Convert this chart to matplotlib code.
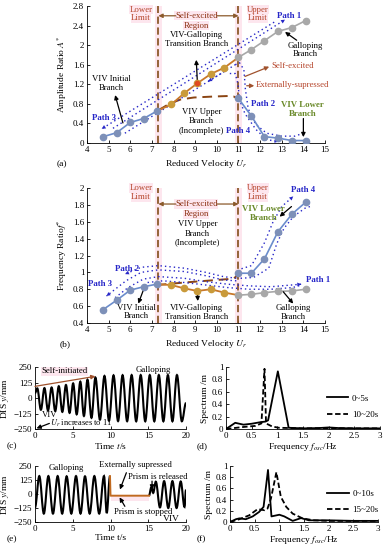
import matplotlib
matplotlib.use('Agg')
import matplotlib.pyplot as plt
from matplotlib.path import Path
from matplotlib.patches import PathPatch

plt.rcParams['font.family'] = ['Liberation Serif', 'DejaVu Serif']
plt.rcParams['mathtext.fontset'] = 'stix'
plt.rcParams['font.size'] = 6.3

# ---- panel (a)/(b) data: reduced velocity vs amplitude / frequency ratio
ur_viv = [4.75, 5.37, 6.0, 6.62, 7.22]
ur_trans = [7.9, 8.5, 9.1, 9.72, 10.35]
ur_high = [11.0, 11.6, 12.2, 12.82, 13.47, 14.1]

amp_viv = [0.13, 0.21, 0.42, 0.50, 0.65]
amp_trans = [0.79, 1.02, 1.22, 1.41, 1.54]
amp_gal = [1.75, 1.91, 2.09, 2.28, 2.36, 2.50]
amp_low = [0.91, 0.55, 0.13, 0.10, 0.05, 0.05]

frq_viv = [0.56, 0.67, 0.79, 0.83, 0.86]
frq_trans = [0.85, 0.81, 0.78, 0.80, 0.76]
frq_gal = [0.73, 0.74, 0.76, 0.775, 0.78, 0.80]
frq_low = [0.99, 0.99, 1.16, 1.48, 1.69, 1.83]

# VIV upper branch (incomplete) dashed lines
upper_a_x = [7.3, 7.8, 8.33, 8.94, 9.86, 10.5, 10.78, 11.0]
upper_a_y = [0.67, 0.80, 0.89, 0.93, 0.95, 0.96, 0.95, 0.90]
upper_b_x = [7.22, 8.5, 9.5, 10.5, 10.8, 11.0]
upper_b_y = [0.85, 0.88, 0.90, 0.92, 0.93, 0.98]

# ---- panel (c): extrema of displacement time history (t in s, y in mm)
t_c = [0.0, 0.3, 0.78, 1.25, 1.72, 2.2, 2.68, 3.15, 3.62, 4.1, 4.58, 5.05, 5.52,
       6.0, 6.48, 6.95, 7.48, 8.0, 8.6, 9.2, 9.8, 10.4, 11.0, 11.6, 12.2, 12.8,
       13.4, 14.0, 14.6, 15.2, 15.8, 16.4, 17.0, 17.6, 18.2, 18.8, 19.45, 20.0]
y_c = [40, 78, -95, 80, -100, 85, -105, 95, -112, 105, -120, 118, -132,
       132, -145, 148, -160, 165, -175, 178, -183, 183, -186, 184, -187, 185,
       -188, 185, -188, 185, -188, 185, -188, 185, -188, 185, -188, -40]

# ---- panel (e)
t_e = [0.0, 0.57, 1.17, 1.77, 2.38, 3.0, 3.6, 4.19, 4.81, 5.43, 6.03, 6.62,
       7.24, 7.86, 8.5, 9.14, 9.5, 9.93]
y_e = [-120, 160, -175, 160, -175, 160, -175, 158, -175, 160, -175, 158,
       -175, 160, -175, 160, -170, 160]
t_stop = [9.93, 10.0, 15.1]
y_stop = [160, -15, -15]
t_rel = [15.1, 15.4, 15.65, 16.0, 16.55, 17.1, 17.65, 18.2, 18.75, 19.3, 19.8, 20.0]
y_rel = [-15, 60, 10, 110, -120, 115, -125, 115, -125, 112, -115, 40]

# ---- panel (d)/(f): spectra
f_d1 = [0, 0.18, 0.34, 0.5, 0.67, 0.77, 0.82, 1.01, 1.22, 1.5, 1.8, 2.0, 2.2, 2.5, 3.0]
s_d1 = [0, 0.10, 0.07, 0.085, 0.11, 0.12, 0.14, 0.93, 0.02, 0.01, 0.015, 0.025, 0.015, 0.01, 0.01]
f_d2 = [0, 0.31, 0.57, 0.69, 0.75, 0.78, 0.9, 1.03, 1.5, 2.0, 2.5, 3.0]
s_d2 = [0, 0.03, 0.05, 0.09, 0.97, 0.09, 0.04, 0.02, 0.01, 0.015, 0.01, 0.01]
f_f1 = [0, 0.12, 0.19, 0.32, 0.46, 0.59, 0.68, 0.77, 0.84, 1.0, 1.1, 1.27, 1.44, 1.6, 2.0, 2.5, 3.0]
s_f1 = [0, 0.05, 0.065, 0.05, 0.10, 0.18, 0.27, 0.93, 0.10, 0.13, 0.10, 0.02, 0.07, 0.03, 0.03, 0.02, 0.02]
f_f2 = [0, 0.19, 0.39, 0.56, 0.7, 0.76, 0.83, 0.94, 1.03, 1.14, 1.27, 1.47, 1.7, 2.0, 2.5, 3.0]
s_f2 = [0, 0.05, 0.12, 0.23, 0.21, 0.24, 0.42, 0.89, 0.45, 0.27, 0.15, 0.065, 0.03, 0.02, 0.02, 0.02]

# colours
c_blue = '#7d90b8'
c_blue_ln = '#6a8ccc'
c_orange = '#c99a3a'
c_orange_ln = '#c8782a'
c_grey = '#a8a8a8'
c_brown = '#8b5a2b'
c_path = '#2626c8'
c_red = '#b5442a'
c_green = '#6a8a2a'
c_pink = '#fde6ee'


def wave(ax, ts, ys, color='black', lw=1.5):
    # smooth curve through extrema, horizontal tangent at each extremum
    verts = [(ts[0], ys[0])]
    codes = [Path.MOVETO]
    for i in range(1, len(ts)):
        dt = ts[i] - ts[i - 1]
        verts += [(ts[i - 1] + 0.36 * dt, ys[i - 1]), (ts[i] - 0.36 * dt, ys[i]), (ts[i], ys[i])]
        codes += [Path.CURVE4] * 3
    ax.add_patch(PathPatch(Path(verts, codes), facecolor='none', edgecolor=color, lw=lw))


def dotted(ax, xs, ys, arrow=False):
    ax.plot(xs, ys, ls=(0, (1, 2.2)), color=c_path, lw=1.0)
    if arrow:
        ax.annotate('', xy=(xs[-1], ys[-1]), xytext=(xs[-2], ys[-2]),
                    arrowprops=dict(arrowstyle='-|>', color=c_path, lw=0.01,
                                    mutation_scale=7, shrinkA=0, shrinkB=0))


def arrow(ax, xy, xytext, color='black'):
    ax.annotate('', xy=xy, xytext=xytext,
                arrowprops=dict(arrowstyle='-|>', color=color, lw=0.9,
                                mutation_scale=6, shrinkA=0, shrinkB=0),
                annotation_clip=False)


def branches(ax, y_viv, y_trans, y_gal, y_low):
    ax.plot(ur_viv, y_viv, color=c_blue_ln, lw=1.2, zorder=3)
    ax.plot([ur_viv[-1]] + ur_trans + [ur_high[0]], [y_viv[-1]] + y_trans + [y_gal[0]],
            color=c_orange_ln, lw=1.3, zorder=3)
    ax.plot(ur_high, y_gal, color=c_grey, lw=1.2, zorder=3)
    ax.plot(ur_high, y_low, color=c_blue_ln, lw=1.2, zorder=3)
    ax.plot(ur_viv, y_viv, 'o', color=c_blue, ms=4.5, zorder=4)
    ax.plot(ur_trans, y_trans, 'o', color=c_orange, ms=4.5, zorder=4)
    ax.plot(ur_high, y_gal, 'o', color=c_grey, ms=4.5, zorder=4)
    ax.plot(ur_high, y_low, 'o', color=c_blue, ms=4.5, zorder=4)


def limits(ax, y1, y2, y3, y4):
    # y1/y2: Lower|Upper / Limit lines, y3/y4: Self-excited / Region lines
    for x in [7.3, 11.0]:
        ax.axvspan(x - 0.15, x + 0.15, color=c_pink, zorder=0, lw=0)
        ax.axvline(x, color=c_brown, ls=(0, (4, 2)), lw=1.3, zorder=2)
    box = dict(fc=c_pink, ec='none', pad=0.4)
    for x, w in [(6.5, 'Lower'), (11.9, 'Upper')]:
        ax.text(x, y1, w, color=c_red, ha='center', va='center', bbox=box, clip_on=False)
        ax.text(x, y2, 'Limit', color=c_red, ha='center', va='center', bbox=box)
    ax.text(9.05, y3, 'Self-excited', color='#8b3010', ha='center', va='center', bbox=box)
    ax.text(9.05, y4, 'Region', color='#8b3010', ha='center', va='center', bbox=box)
    arrow(ax, (7.3, y3), (8.1, y3), color=c_brown)
    arrow(ax, (11.0, y3), (10.0, y3), color=c_brown)


def style(ax):
    for s in ['top', 'right']:
        ax.spines[s].set_visible(False)
    ax.tick_params(direction='in', length=2, width=0.6, labelsize=6.5, pad=2)
    for s in ['left', 'bottom']:
        ax.spines[s].set_linewidth(0.6)


fig = plt.figure(figsize=(3.86, 5.5), dpi=100)

# ---------------- (a)
ax = fig.add_axes([0.2254, 0.74, 0.6166, 0.2491])
style(ax)
limits(ax, 2.72, 2.55, 2.6, 2.4)
branches(ax, amp_viv, amp_trans, amp_gal, amp_low)
ax.plot(ur_trans[2], amp_trans[2], 'o', color='#e04a20', ms=3, zorder=5)
ax.plot(upper_a_x, upper_a_y, color='#8b4513', ls=(0, (5, 3)), lw=1.4, zorder=2)
dotted(ax, [12.65, 4.68], [2.47, 0.29], arrow=True)
dotted(ax, [5.2, 13.15], [0.30, 2.52], arrow=True)
dotted(ax, [5.75, 10.85], [0.2, 1.6])
dotted(ax, [10.2, 9.6], [1.42, 1.26], arrow=True)
dotted(ax, [10.85, 11.05, 11.25, 11.32, 11.45, 11.8, 12.3, 13.0, 13.6, 14.0],
       [1.60, 1.64, 1.50, 1.1, 0.7, 0.38, 0.2, 0.14, 0.14, 0.2])
dotted(ax, [10.6, 10.85, 10.98, 11.05, 11.3, 11.8, 12.3, 12.85],
       [1.42, 1.42, 1.2, 0.88, 0.6, 0.28, 0.07, 0.03], arrow=True)
ax.text(13.33, 2.6, 'Path 1', color=c_path, fontweight='bold', ha='center', va='center')
ax.text(12.15, 0.8, 'Path 2', color=c_path, fontweight='bold', ha='center', va='center')
ax.text(4.79, 0.52, 'Path 3', color=c_path, fontweight='bold', ha='center', va='center')
ax.text(11.0, 0.25, 'Path 4', color=c_path, fontweight='bold', ha='center', va='center')
ax.text(9.07, 2.11, 'VIV-Galloping\nTransition Branch', ha='center', va='center', linespacing=1.15)
arrow(ax, (9.05, 1.7), (9.1, 1.25))
ax.text(5.14, 1.22, 'VIV Initial\nBranch', ha='center', va='center', linespacing=1.15)
arrow(ax, (5.3, 0.98), (5.66, 0.41))
ax.text(14.07, 1.9, 'Galloping\nBranch', ha='center', va='center', linespacing=1.15)
arrow(ax, (13.15, 2.27), (13.69, 2.1))
ax.text(9.3, 0.44, 'VIV Upper\nBranch\n(Incomplete)', ha='center', va='center', linespacing=1.25)
ax.text(13.95, 0.69, 'VIV Lower\nBranch', color=c_green, fontweight='bold', ha='center',
        va='center', linespacing=1.15)
arrow(ax, (14.0, 0.12), (14.0, 0.5))
arrow(ax, (12.42, 1.56), (11.3, 1.36), color='#a0522d')
ax.text(12.5, 1.58, 'Self-excited', color=c_red, ha='left', va='center')
arrow(ax, (11.73, 1.17), (11.38, 1.17), color='#a0522d')
ax.text(11.81, 1.19, 'Externally-supressed', color=c_red, ha='left', va='center')
ax.set_xlim(4, 15)
ax.set_ylim(0, 2.8)
ax.set_xticks(range(4, 16))
ax.set_yticks([0, 0.4, 0.8, 1.2, 1.6, 2.0, 2.4, 2.8])
ax.set_yticklabels(['0', '0.4', '0.8', '1.2', '1.6', '2', '2.4', '2.8'])
ax.set_xlabel('Reduced Velocity $U_r$', fontsize=6.8, labelpad=3)
ax.set_ylabel('Amplitude Ratio $A^{*}$', fontsize=6.8, labelpad=3)

# ---------------- (b)
ax = fig.add_axes([0.2254, 0.4127, 0.6166, 0.2455])
style(ax)
limits(ax, 2.0, 1.89, 1.81, 1.69)
branches(ax, frq_viv, frq_trans, frq_gal, frq_low)
ax.plot(upper_b_x, upper_b_y, color='#8b4513', ls=(0, (5, 3)), lw=1.4, zorder=2)
dotted(ax, [10.9, 10.3, 9.5, 8.5, 7.3, 6.5, 5.76], [0.93, 0.95, 1.0, 1.05, 1.08, 1.06, 0.98], arrow=True)
dotted(ax, [10.9, 10.3, 9.5, 8.5, 7.3, 6.5, 5.8, 5.2, 4.9],
       [0.90, 0.91, 0.96, 1.01, 1.03, 1.0, 0.9, 0.78, 0.72], arrow=True)
dotted(ax, [5.3, 5.9, 6.6, 7.3, 8.5, 9.5, 10.5, 11.5, 12.5, 13.9],
       [0.70, 0.82, 0.92, 0.95, 0.93, 0.89, 0.86, 0.84, 0.83, 0.86], arrow=True)
dotted(ax, [6.8, 7.5, 8.5, 9.5, 10.5, 11.5, 12.5, 13.5, 13.9],
       [0.88, 0.9, 0.88, 0.85, 0.82, 0.8, 0.8, 0.82, 0.85])
dotted(ax, [10.9, 11.1, 11.6, 12.2, 12.6, 13.0, 13.53],
       [0.96, 1.04, 1.08, 1.35, 1.6, 1.78, 1.9], arrow=True)
dotted(ax, [11.1, 11.7, 12.4, 12.77, 13.1, 13.53, 14.07, 14.3],
       [0.93, 0.94, 1.05, 1.34, 1.52, 1.66, 1.76, 1.78])
ax.text(14.0, 1.98, 'Path 4', color=c_path, fontweight='bold', ha='center', va='center')
ax.text(14.7, 0.91, 'Path 1', color=c_path, fontweight='bold', ha='center', va='center')
ax.text(5.87, 1.04, 'Path 2', color=c_path, fontweight='bold', ha='center', va='center')
ax.text(4.6, 0.86, 'Path 3', color=c_path, fontweight='bold', ha='center', va='center')
ax.text(9.1, 1.46, 'VIV Upper\nBranch\n(Incomplete)', ha='center', va='center', linespacing=1.25)
ax.text(12.15, 1.7, 'VIV Lower\nBranch', color=c_green, fontweight='bold', ha='center',
        va='center', linespacing=1.15)
arrow(ax, (12.9, 1.66), (13.45, 1.78))
ax.text(6.27, 0.53, 'VIV Initial\nBranch', ha='center', va='center', linespacing=1.15)
arrow(ax, (6.37, 0.63), (6.62, 0.80))
ax.text(9.07, 0.52, 'VIV-Galloping\nTransition Branch', ha='center', va='center', linespacing=1.15)
arrow(ax, (9.12, 0.66), (9.1, 0.78))
ax.text(13.53, 0.52, 'Galloping\nBranch', ha='center', va='center', linespacing=1.15)
arrow(ax, (13.53, 0.63), (13.07, 0.77))
ax.set_xlim(4, 15)
ax.set_ylim(0.4, 2.0)
ax.set_xticks(range(4, 16))
ax.set_yticks([0.4, 0.6, 0.8, 1.0, 1.2, 1.4, 1.6, 1.8, 2.0])
ax.set_yticklabels(['0.4', '0.6', '0.8', '1', '1.2', '1.4', '1.6', '1.8', '2'])
ax.set_xlabel('Reduced Velocity $U_r$', fontsize=6.8, labelpad=3)
ax.set_ylabel('Frequency Ratio$f^{*}$', fontsize=6.8, labelpad=3)

# ---------------- (c)
ax = fig.add_axes([0.0907, 0.22, 0.3912, 0.1127])
style(ax)
wave(ax, t_c, y_c)
ax.text(0.9, 215, 'Self-initiated', ha='left', va='center',
        bbox=dict(fc=c_pink, ec='none', pad=0.3))
arrow(ax, (8.0, 175), (0.0, 94), color='#a0522d')
ax.text(15.6, 225, 'Galloping', ha='center', va='center')
ax.text(2.0, -140, 'VIV', ha='center', va='center')
ax.text(2.0, -205, '$U_r$ increases to 11', ha='left', va='center', fontsize=6)
arrow(ax, (0.2, -245), (1.9, -205))
ax.set_xlim(0, 20)
ax.set_ylim(-250, 250)
ax.set_xticks([0, 5, 10, 15, 20])
ax.set_yticks([-250, -125, 0, 125, 250])
ax.set_xlabel('Time $t$/s', fontsize=6.8, labelpad=1)
ax.set_ylabel('DIS $y$/mm', fontsize=6.8)
ax.yaxis.set_label_coords(-0.16, 0.5)

# ---------------- (d)
ax = fig.add_axes([0.5855, 0.22, 0.399, 0.1127])
style(ax)
ax.plot(f_d1, s_d1, color='black', lw=1.3, label='0~5s')
ax.plot(f_d2, s_d2, color='black', lw=1.3, ls=(0, (3, 1.5)), label='10~20s')
ax.legend(frameon=False, loc='center left', bbox_to_anchor=(0.6, 0.36), fontsize=6.5,
          handlelength=2.4, labelspacing=0.9, handletextpad=0.4)
ax.set_xlim(0, 3)
ax.set_ylim(0, 1)
ax.set_xticks([0, 0.5, 1, 1.5, 2, 2.5, 3])
ax.set_xticklabels(['0', '0.5', '1', '1.5', '2', '2.5', '3'])
ax.set_yticks([0, 0.2, 0.4, 0.6, 0.8, 1])
ax.set_yticklabels(['0', '0.2', '0.4', '0.6', '0.8', '1'])
ax.set_xlabel('Frequency $f_{osc}$/Hz', fontsize=6.8, labelpad=1)
ax.set_ylabel('Spectrum /m', fontsize=6.8, labelpad=2)

# ---------------- (e)
ax = fig.add_axes([0.0907, 0.0509, 0.3912, 0.1018])
style(ax)
ax.axhspan(-60, -15, xmin=0.5, xmax=0.755, color=c_pink, lw=0, zorder=0)
wave(ax, t_e, y_e)
ax.plot(t_stop, y_stop, color='#c06a20', lw=1.4)
wave(ax, t_rel, y_rel)
ax.text(4.2, 230, 'Galloping', ha='center', va='center')
ax.text(13.25, 262, 'Externally supressed', ha='center', va='center', clip_on=False)
arrow(ax, (11.25, 40), (12.1, 190))
ax.text(16.3, 152, 'Prism is released', ha='center', va='center')
arrow(ax, (15.5, 40), (15.5, 115))
ax.text(14.35, -160, 'Prism is stopped', ha='center', va='center')
arrow(ax, (11.2, -30), (11.9, -110))
ax.text(18.1, -225, 'VIV', ha='center', va='center', fontsize=6.8)
ax.set_xlim(0, 20)
ax.set_ylim(-250, 250)
ax.set_xticks([0, 5, 10, 15, 20])
ax.set_yticks([-250, -125, 0, 125, 250])
ax.set_xlabel('Time t/s', fontsize=6.8, labelpad=1)
ax.set_ylabel('DIS $y$/mm', fontsize=6.8)
ax.yaxis.set_label_coords(-0.16, 0.5)

# ---------------- (f)
ax = fig.add_axes([0.5959, 0.0509, 0.3834, 0.1018])
style(ax)
ax.plot(f_f1, s_f1, color='black', lw=1.3, label='0~10s')
ax.plot(f_f2, s_f2, color='black', lw=1.3, ls=(0, (3, 1.5)), label='15~20s')
ax.legend(frameon=False, loc='center left', bbox_to_anchor=(0.6, 0.36), fontsize=6.5,
          handlelength=2.4, labelspacing=0.9, handletextpad=0.4)
ax.set_xlim(0, 3)
ax.set_ylim(0, 1)
ax.set_xticks([0, 0.5, 1, 1.5, 2, 2.5, 3])
ax.set_xticklabels(['0', '0.5', '1', '1.5', '2', '2.5', '3'])
ax.set_yticks([0, 0.2, 0.4, 0.6, 0.8, 1])
ax.set_yticklabels(['0', '0.2', '0.4', '0.6', '0.8', '1'])
ax.set_xlabel('Frequency $f_{osc}$/Hz', fontsize=6.8, labelpad=1)
ax.set_ylabel('Spectrum /m', fontsize=6.8, labelpad=2)

# panel letters
fig.text(0.147, 0.702, '(a)', fontsize=6.8, va='center')
fig.text(0.155, 0.3745, '(b)', fontsize=6.8, va='center')
fig.text(0.017, 0.188, '(c)', fontsize=6.8, va='center')
fig.text(0.51, 0.188, '(d)', fontsize=6.8, va='center')
fig.text(0.017, 0.02, '(e)', fontsize=6.8, va='center')
fig.text(0.51, 0.02, '(f)', fontsize=6.8, va='center')

fig.savefig('out.png', dpi=100)
